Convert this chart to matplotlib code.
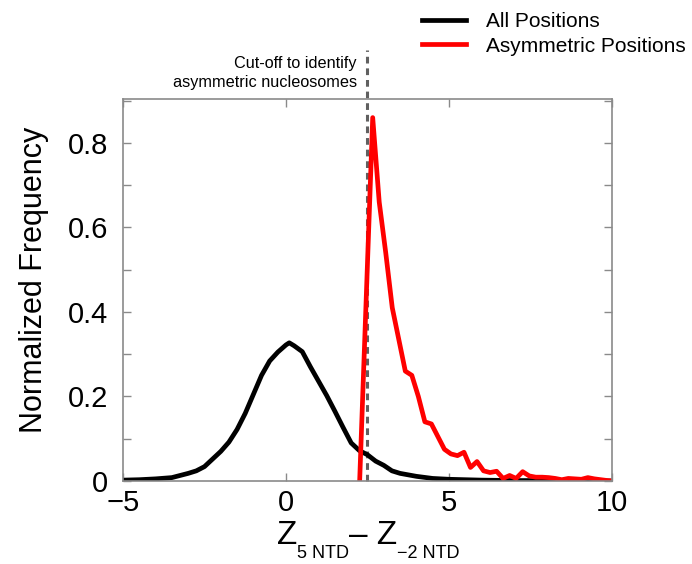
import matplotlib
matplotlib.use('Agg')
import matplotlib.pyplot as plt
from matplotlib.ticker import MultipleLocator

plt.rcParams['font.family'] = ['Liberation Sans', 'DejaVu Sans']

# distribution of all positions
all_x = [-5, -4.5, -4, -3.5, -3, -2.75, -2.5, -2.25, -2, -1.75, -1.5, -1.25,
         -1, -0.75, -0.5, -0.25, 0, 0.1, 0.25, 0.5, 0.75, 1, 1.25, 1.5, 1.75,
         2, 2.25, 2.5, 2.75, 3, 3.25, 3.5, 4, 4.5, 5, 6, 7, 8, 9, 10]
all_y = [0.002, 0.003, 0.005, 0.008, 0.018, 0.024, 0.034, 0.052, 0.070,
         0.092, 0.122, 0.160, 0.205, 0.250, 0.284, 0.305, 0.322, 0.327,
         0.320, 0.306, 0.270, 0.236, 0.202, 0.165, 0.127, 0.090, 0.072,
         0.062, 0.047, 0.037, 0.024, 0.018, 0.011, 0.006, 0.004, 0.002,
         0.001, 0.001, 0.0005, 0.0]

# distribution of asymmetric positions
asym_x = [2.26, 2.66, 2.86, 3.06, 3.26, 3.46, 3.66, 3.86, 4.06, 4.26, 4.46,
          4.66, 4.86, 5.06, 5.26, 5.46, 5.66, 5.86, 6.06, 6.26, 6.46, 6.66,
          6.86, 7.06, 7.26, 7.46, 7.66, 7.86, 8.06, 8.26, 8.46, 8.66, 8.86,
          9.06, 9.26, 9.46, 9.66, 9.86, 10.0]
asym_y = [0.0, 0.86, 0.66, 0.54, 0.41, 0.335, 0.26, 0.25, 0.20, 0.14, 0.135,
          0.105, 0.075, 0.064, 0.060, 0.068, 0.032, 0.046, 0.024, 0.020,
          0.023, 0.006, 0.013, 0.006, 0.022, 0.012, 0.009, 0.009, 0.008,
          0.006, 0.003, 0.006, 0.005, 0.004, 0.008, 0.005, 0.003, 0.001, 0.0]

cutoff = 2.5
y_ticks = [0, 0.2, 0.4, 0.6, 0.8]
y_ticklabels = ['0', '0.2', '0.4', '0.6', '0.8']
spine_col = '#8a8a8a'

fig = plt.figure(figsize=(6.92, 5.64), dpi=100)
ax = fig.add_axes([0.1777, 0.1472, 0.7067, 0.6773])

l1, = ax.plot(all_x, all_y, color='black', lw=3.4, label='All Positions')
l2, = ax.plot(asym_x, asym_y, color='red', lw=3.4, label='Asymmetric Positions')
# cut-off line reaches above the axes, up to the annotation
ax.plot([cutoff, cutoff], [0, 1.02], color='#606060', lw=2.2,
        linestyle=(0, (2.2, 1.6)), clip_on=False, zorder=1)

ax.set_xlim(-5, 10)
ax.set_ylim(0, 0.904)
ax.xaxis.set_major_locator(MultipleLocator(5))
ax.set_yticks(y_ticks)
ax.set_yticklabels(y_ticklabels)
ax.yaxis.set_minor_locator(MultipleLocator(0.1))
ax.tick_params(which='both', direction='in', top=True, right=True,
               length=6, width=1, color=spine_col, labelsize=21)
ax.tick_params(axis='y', pad=10.5)
ax.tick_params(axis='x', pad=6)
for s in ax.spines.values():
    s.set_color(spine_col)
    s.set_linewidth(1.2)

ax.set_ylabel('Normalized Frequency', fontsize=22)
ax.yaxis.set_label_coords(-0.151, 0.526)

# x label built from pieces: Z with small subscripts
base_y = 1 - 544 / 564
sub_y = 1 - 558 / 564
z1 = fig.text(277 / 692, base_y, 'Z', fontsize=24, va='baseline', ha='left')
s1 = ax.annotate('5 NTD', xy=(1, sub_y), xycoords=(z1, 'figure fraction'),
                 fontsize=13, va='baseline', ha='left', annotation_clip=False)
z2 = ax.annotate('\u2013 Z', xy=(1, base_y), xycoords=(s1, 'figure fraction'),
                 fontsize=24, va='baseline', ha='left', annotation_clip=False)
ax.annotate('\u22122 NTD', xy=(1, sub_y), xycoords=(z2, 'figure fraction'),
            fontsize=13, va='baseline', ha='left', annotation_clip=False)

fig.text(357 / 692, 1 - 73 / 564, 'Cut-off to identify\nasymmetric nucleosomes',
         ha='right', va='center', fontsize=11.7, linespacing=1.3)

fig.legend(handles=[l1, l2], loc='upper left', bbox_to_anchor=(422 / 692, 0.979),
           frameon=False, fontsize=15, handlelength=2.1, handletextpad=0.95,
           labelspacing=0.28, borderpad=0, borderaxespad=0)

fig.savefig('out.png', dpi=100)
